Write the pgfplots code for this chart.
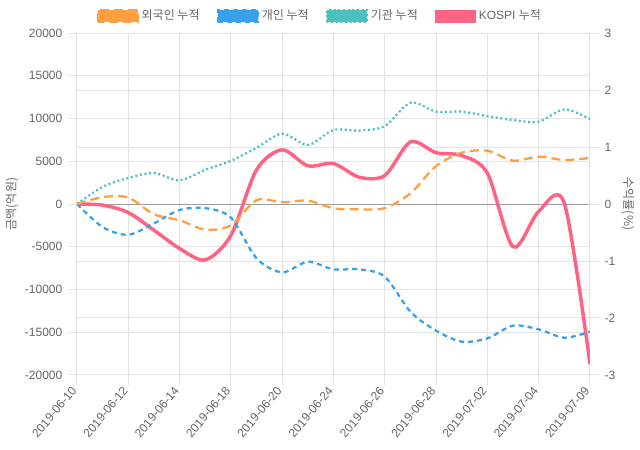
\documentclass[border=0pt]{standalone}
\usepackage{fontspec}
\setmainfont{Liberation Sans}
\newfontfamily\kr{Noto Sans CJK KR}
\usepackage{pgfplots}
\pgfplotsset{compat=1.18}

\definecolor{cOra}{RGB}{255,159,64}
\definecolor{cBlu}{RGB}{54,162,235}
\definecolor{cTea}{RGB}{75,192,192}
\definecolor{cPnk}{RGB}{255,99,132}
\definecolor{txt}{HTML}{666666}
\definecolor{grd}{HTML}{E4E4E4}

\pgfplotsset{
  base/.style={
    scale only axis, width=384.75pt, height=256.5pt,
    at={(0,0)}, anchor=south west,
    xmin=0, xmax=20,
    set layers,
    grid=major, major grid style={grd, line width=0.75pt},
    tick style={grd, line width=0.75pt},
    major tick length=7.5pt, tick align=outside,
    ticklabel style={font=\fontsize{9}{11}\selectfont, text=txt},
    label style={font=\fontsize{9}{11}\selectfont, text=txt},
    scaled y ticks=false,
    /pgf/number format/assume math mode=true,
    /pgf/number format/1000 sep={},
    axis line style={grd, line width=0.75pt},
  },
  ora/.style={color=cOra, line width=1.7pt, dash pattern=on 6.75pt off 3.75pt},
  blu/.style={color=cBlu, line width=1.7pt, dash pattern=on 3.75pt off 3pt},
  tea/.style={color=cTea, line width=1.7pt, dash pattern=on 1.5pt off 2pt},
  pnk/.style={color=cPnk, line width=2.6pt},
}

\begin{document}
\begin{tikzpicture}
% right axis: KOSPI return, x ticks and vertical grid
\begin{axis}[base,
  axis x line*=bottom, axis y line*=right,
  ymin=-3, ymax=3, ytick={-3,...,3},
  xtick={0,2,...,20},
  xticklabels={2019-06-10,2019-06-12,2019-06-14,2019-06-18,2019-06-20,2019-06-24,2019-06-26,2019-06-28,2019-07-02,2019-07-04,2019-07-09},
  xticklabel style={rotate=50, anchor=east},
  ylabel={\kr 수익률(\%)},
  ylabel style={at={(axis description cs:1.074,0.5)}, anchor=center, rotate=180},
]
\addplot[pnk, smooth] coordinates {
 (0,0) (1,-0.02) (2,-0.15) (3,-0.46) (4,-0.78) (5,-0.98) (6,-0.55)
 (7,0.6) (8,0.95) (9,0.67) (10,0.71) (11,0.47) (12,0.5) (13,1.09)
 (14,0.9) (15,0.85) (16,0.54) (17,-0.75) (18,-0.13) (19,0.01) (20,-2.81)
};
\end{axis}

% left axis: cumulative amounts
\begin{axis}[base,
  axis x line=none, axis y line*=left,
  xtick=\empty,
  ymin=-20000, ymax=20000, ytick={-20000,-15000,...,20000},
  extra y ticks={0}, extra y tick labels={},
  extra y tick style={major grid style={black!38, line width=0.75pt}},
  ylabel={\kr 금액(억원)},
  ylabel style={at={(axis description cs:-0.127,0.5)}, anchor=center},
  legend columns=4,
  legend style={at={(axis description cs:0.474,1)}, yshift=12.75pt, anchor=center,
    draw=none, fill=none, font=\fontsize{9}{11}\selectfont, text=txt,
    /tikz/every even column/.append style={column sep=11pt}},
  legend image code/.code={\draw[#1, fill] (0pt,-4.5pt) rectangle (30pt,4.5pt);},
]
\addlegendimage{ora}
\addlegendimage{blu}
\addlegendimage{tea}
\addlegendimage{pnk, line width=0.75pt}
\legend{{\kr 외국인 누적},{\kr 개인 누적},{\kr 기관 누적},{KOSPI \kr 누적}}

\addplot[tea, smooth, forget plot] coordinates {
 (0,0) (1,2000) (2,3050) (3,3620) (4,2770) (5,4000) (6,5050) (7,6570)
 (8,8230) (9,6900) (10,8650) (11,8580) (12,9120) (13,11850) (14,10800)
 (15,10800) (16,10290) (17,9820) (18,9630) (19,11070) (20,9940)
};
\addplot[blu, smooth, forget plot] coordinates {
 (0,0) (1,-2700) (2,-3600) (3,-2260) (4,-700) (5,-480) (6,-1600) (7,-6350)
 (8,-8000) (9,-6750) (10,-7640) (11,-7640) (12,-8500) (13,-12600) (14,-14820)
 (15,-16100) (16,-15710) (17,-14230) (18,-14660) (19,-15640) (20,-14930)
};
\addplot[ora, smooth, forget plot] coordinates {
 (0,0) (1,800) (2,750) (3,-1200) (4,-1900) (5,-3000) (6,-2500) (7,450)
 (8,200) (9,390) (10,-500) (11,-620) (12,-480) (13,1250) (14,4440)
 (15,6000) (16,6230) (17,5070) (18,5540) (19,5150) (20,5380)
};
\end{axis}
\pgfresetboundingbox
\path[use as bounding box] (-57.75pt,-56.25pt) rectangle (422.25pt,281.25pt);
\end{tikzpicture}
\end{document}
